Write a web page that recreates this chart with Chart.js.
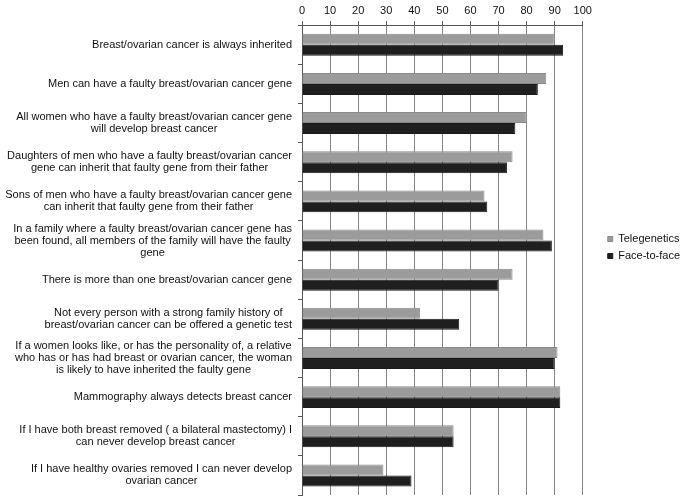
<!DOCTYPE html>
<html>
<head>
<meta charset="utf-8">
<script src="https://cdn.jsdelivr.net/npm/chart.js@4"></script>
<style>
  html, body { margin: 0; padding: 0; background: #fff; }
  #wrap { width: 685px; height: 497px; }
</style>
</head>
<body>
<div id="wrap"><canvas id="barChart" width="685" height="497"></canvas></div>
<script>
// statements (split into lines as in the figure)
const statements = [
  ['Breast/ovarian cancer is always inherited'],
  ['Men can have a faulty breast/ovarian cancer gene'],
  ['All women who have a faulty breast/ovarian cancer gene', 'will develop breast cancer'],
  ['Daughters of men who have a faulty breast/ovarian cancer', 'gene can inherit that faulty gene from their father'],
  ['Sons of men who have a faulty breast/ovarian cancer gene', 'can inherit that faulty gene from their father'],
  ['In a family where a faulty breast/ovarian cancer gene has', 'been found, all members of the family will have the faulty', 'gene'],
  ['There is more than one breast/ovarian cancer gene'],
  ['Not every person with a strong family history of', 'breast/ovarian cancer can be offered a genetic test'],
  ['If a women looks like, or has the personality of, a relative', 'who has or has had breast or ovarian cancer, the woman', 'is likely to have inherited the faulty gene'],
  ['Mammography always detects breast cancer'],
  ['If I have both breast removed ( a bilateral mastectomy) I', 'can never develop breast cancer'],
  ['If I have healthy ovaries removed I can never develop', 'ovarian cancer']
];

const telegenetics = [90, 87, 80, 75, 65, 86, 75, 42, 91, 92, 54, 29];
const faceToFace   = [93, 84, 76, 73, 66, 89, 70, 56, 90, 92, 54, 39];

const xTicks = [0, 10, 20, 30, 40, 50, 60, 70, 80, 90, 100];

const FONT = 'Liberation Sans, Arial, sans-serif';

// draws the category labels: block right-aligned to the axis, lines centred inside the block
const statementLabels = {
  id: 'statementLabels',
  afterDraw(chart) {
    const ctx = chart.ctx;
    const yScale = chart.scales.y;
    const right = yScale.right - 10;
    const lineH = 12;
    ctx.save();
    ctx.font = '11px ' + FONT;
    ctx.fillStyle = '#111';
    ctx.textAlign = 'center';
    ctx.textBaseline = 'middle';
    statements.forEach((lines, i) => {
      const cy = yScale.getPixelForValue(i);
      const w = Math.max(...lines.map(l => ctx.measureText(l).width));
      const cx = right - w / 2;
      const top = cy - (lines.length - 1) * lineH / 2;
      lines.forEach((l, j) => ctx.fillText(l, cx, top + j * lineH));
    });
    ctx.restore();
  }
};

// widen the legend box a bit and push its items right, leaving a gap after the plot
const legendGap = {
  id: 'legendGap',
  afterInit(chart) {
    const legend = chart.legend;
    const fit = legend.fit;
    const draw = legend.draw;
    legend.fit = function () { fit.call(this); this.width += 10; };
    legend.draw = function () {
      const ctx = this.ctx;
      ctx.save();
      ctx.translate(19, 0);
      draw.call(this);
      ctx.restore();
    };
  }
};

new Chart(document.getElementById('barChart'), {
  type: 'bar',
  data: {
    labels: statements.map(s => s.join(' ')),
    datasets: [
      {
        label: 'Telegenetics',
        data: telegenetics,
        backgroundColor: '#9b9b9b',
        borderColor: '#8a8a8a',
        borderWidth: 1,
        barPercentage: 1,
        categoryPercentage: 0.56
      },
      {
        label: 'Face-to-face',
        data: faceToFace,
        backgroundColor: '#1f1f1f',
        borderColor: '#1a1a1a',
        borderWidth: 1,
        barPercentage: 1,
        categoryPercentage: 0.56
      }
    ]
  },
  options: {
    indexAxis: 'y',
    responsive: false,
    animation: false,
    layout: { padding: { top: 0, right: 4, bottom: 2, left: 0 } },
    scales: {
      x: {
        position: 'top',
        min: 0,
        max: 100,
        afterBuildTicks: (scale) => { scale.ticks = xTicks.map(v => ({ value: v })); },
        ticks: {
          color: '#111',
          font: { family: FONT, size: 11 },
          padding: 4,
          maxRotation: 0
        },
        grid: { color: '#858585', lineWidth: 1, tickLength: 4, tickColor: '#555' },
        border: { color: '#555' }
      },
      y: {
        afterFit: (scale) => { scale.width = 302; },
        ticks: { display: false },
        grid: { drawOnChartArea: false, tickLength: 4, tickColor: '#555' },
        border: { color: '#555' }
      }
    },
    plugins: {
      legend: {
        position: 'right',
        labels: {
          color: '#111',
          font: { family: FONT, size: 11 },
          boxWidth: 5,
          boxHeight: 5,
          padding: 6
        }
      },
      tooltip: { enabled: false }
    }
  },
  plugins: [statementLabels, legendGap]
});
</script>
</body>
</html>
